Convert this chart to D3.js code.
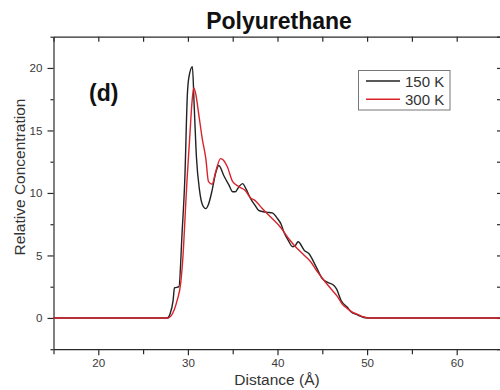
<!DOCTYPE html>
<html>
<head>
<meta charset="utf-8">
<script src="https://cdn.jsdelivr.net/npm/d3@7"></script>
<style>
  html, body { margin: 0; padding: 0; background: #fff; }
  svg { display: block; font-family: "Liberation Sans", Arial, sans-serif; }
</style>
</head>
<body>
<svg width="500" height="390"></svg>
<script>
// 150 K profile
const dist150 = [15, 27.7, 28.0, 28.35, 28.5, 29.0, 29.35, 29.65, 29.95, 30.1, 30.5, 30.7, 30.95, 31.3, 31.6, 32.0, 32.3, 32.7, 33.1, 33.45, 34.0, 34.6, 35.0, 35.3, 35.7, 36.1, 36.5, 37.0, 37.5, 37.9, 38.4, 38.9, 39.4, 40.0, 40.4, 40.7, 41.2, 41.7, 42.0, 42.3, 43.0, 43.5, 44.3, 45.0, 45.6, 46.3, 46.6, 47.1, 47.8, 48.2, 48.9, 50.0, 65];
const conc150 = [0, 0, 0.3, 1.4, 2.4, 2.5, 6.8, 11, 18.0, 19.2, 20.1, 17, 12.9, 10.2, 9.1, 8.75, 9.1, 10.2, 11.6, 12.2, 11.4, 10.6, 10.1, 10.1, 10.5, 10.75, 10.3, 9.55, 9.0, 8.6, 8.5, 8.45, 8.4, 7.95, 7.5, 6.9, 6.2, 5.7, 5.8, 6.1, 5.4, 5.15, 4.1, 3.15, 2.85, 2.6, 2.3, 1.4, 0.85, 0.5, 0.25, 0, 0];

// 300 K profile
const dist300 = [15, 27.8, 28.1, 28.5, 28.8, 29.2, 29.5, 29.75, 29.9, 30.2, 30.45, 30.65, 30.85, 31.2, 31.6, 32.0, 32.3, 32.7, 33.1, 33.65, 34.0, 34.4, 35.0, 35.7, 36.4, 37.0, 37.4, 38.3, 39.2, 40.4, 41.3, 42.2, 43.0, 43.7, 44.4, 45.2, 46.0, 46.7, 47.3, 47.8, 48.4, 48.9, 49.5, 50.0, 50.5, 65];
const conc300 = [0, 0, 0.15, 0.7, 1.4, 2.8, 5.5, 9, 11, 14.4, 17.2, 18.4, 18.0, 16.35, 14.35, 12.75, 10.9, 10.7, 11.7, 12.75, 12.6, 12.1, 10.9, 10.5, 10.2, 9.6, 9.45, 8.75, 8.1, 7.2, 6.3, 5.55, 5.0, 4.5, 3.75, 3.0, 2.3, 1.7, 1.05, 0.75, 0.45, 0.3, 0.1, 0.02, 0, 0];

const xMajor = [20, 30, 40, 50, 60];
const xMinor = [15, 25, 35, 45, 55, 65];
const yMajor = [0, 5, 10, 15, 20];
const yMinor = [-2.5, 2.5, 7.5, 12.5, 17.5, 22.5];

const seriesNames = ["150 K", "300 K"];
const seriesColors = ["#222222", "#d8232c"];

const svg = d3.select("svg");
const plotLeft = 53.5, plotRight = 501.5, plotTop = 36.7, plotBottom = 349.2;

const x = d3.scaleLinear().domain([15, 65]).range([plotLeft, plotRight]);
const y = d3.scaleLinear().domain([-2.5, 22.5]).range([plotBottom, plotTop]);

const axisColor = "#2a2a2a";

function styleAxis(g) {
    g.selectAll("path").attr("stroke", axisColor).attr("stroke-width", 1.2);
    g.selectAll("line").attr("stroke", axisColor).attr("stroke-width", 1.2);
    g.selectAll("text").attr("fill", "#3a3a3a").style("font-size", "11.6px");
}

// bottom axis
svg.append("g").attr("transform", `translate(0,${plotBottom})`)
    .call(d3.axisBottom(x).tickValues(xMinor).tickSize(5).tickFormat("").tickSizeOuter(0))
    .call(styleAxis);
svg.append("g").attr("transform", `translate(0,${plotBottom})`)
    .call(d3.axisBottom(x).tickValues(xMajor).tickSize(6).tickPadding(4).tickSizeOuter(0))
    .call(styleAxis)
    .call(g => g.select("path").remove());

// top axis (inward ticks)
svg.append("g").attr("transform", `translate(0,${plotTop})`)
    .call(d3.axisTop(x).tickValues(xMinor.concat(xMajor)).tickSize(-5).tickFormat("").tickSizeOuter(0))
    .call(styleAxis);

// left axis
svg.append("g").attr("transform", `translate(${plotLeft},0)`)
    .call(d3.axisLeft(y).tickValues(yMinor).tickSize(3).tickFormat("").tickSizeOuter(0))
    .call(styleAxis);
svg.append("g").attr("transform", `translate(${plotLeft},0)`)
    .call(d3.axisLeft(y).tickValues(yMajor).tickSize(6).tickPadding(5).tickSizeOuter(0))
    .call(styleAxis)
    .call(g => g.select("path").remove());

// right axis (inward ticks)
svg.append("g").attr("transform", `translate(${plotRight},0)`)
    .call(d3.axisRight(y).tickValues(yMinor.concat(yMajor)).tickSize(-4.5).tickFormat("").tickSizeOuter(0))
    .call(styleAxis);

// curves
const line = d3.line().x(d => x(d[0])).y(d => y(d[1])).curve(d3.curveMonotoneX);
const series = [d3.zip(dist150, conc150), d3.zip(dist300, conc300)];
series.forEach((pts, i) => {
    svg.append("path")
        .datum(pts)
        .attr("d", line)
        .attr("fill", "none")
        .attr("stroke", seriesColors[i])
        .attr("stroke-width", 1.4)
        .attr("stroke-linejoin", "round");
});

// title and labels
svg.append("text")
    .attr("x", 279).attr("y", 29)
    .attr("text-anchor", "middle")
    .style("font-size", "23px").style("font-weight", "bold")
    .attr("fill", "#111")
    .text("Polyurethane");

svg.append("text")
    .attr("x", 89).attr("y", 101)
    .style("font-size", "23px").style("font-weight", "bold")
    .attr("fill", "#111")
    .text("(d)");

svg.append("text")
    .attr("transform", "translate(25,177) rotate(-90)")
    .attr("text-anchor", "middle")
    .style("font-size", "15.5px")
    .attr("fill", "#333")
    .text("Relative Concentration");

svg.append("text")
    .attr("x", 277).attr("y", 385)
    .attr("text-anchor", "middle")
    .style("font-size", "15.5px")
    .attr("fill", "#333")
    .text("Distance (Å)");

// legend
const legend = svg.append("g");
legend.append("rect")
    .attr("x", 358.5).attr("y", 70.5).attr("width", 91.5).attr("height", 39.5)
    .attr("fill", "#fff").attr("stroke", "#777").attr("stroke-width", 1);
seriesNames.forEach((name, i) => {
    const ly = 81 + i * 18.3;
    legend.append("line")
        .attr("x1", 366).attr("x2", 400).attr("y1", ly).attr("y2", ly)
        .attr("stroke", seriesColors[i]).attr("stroke-width", 1.4);
    legend.append("text")
        .attr("x", 405).attr("y", ly + 5.5)
        .style("font-size", "15px")
        .attr("fill", "#333")
        .text(name);
});
</script>
</body>
</html>
